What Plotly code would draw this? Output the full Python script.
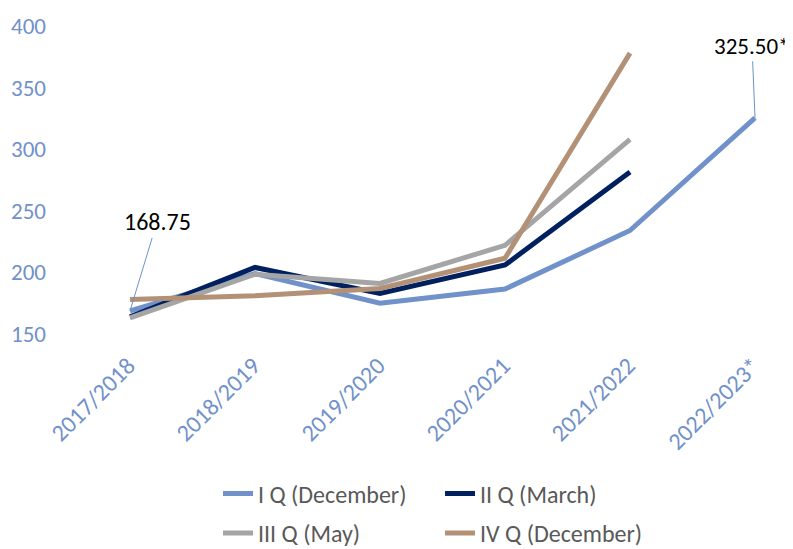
import plotly.graph_objects as go

categories = ["2017/2018", "2018/2019", "2019/2020", "2020/2021", "2021/2022", "2022/2023*"]
q1_december = [168.75, 199, 175, 186.5, 234, 325.5]
q2_march = [164, 204, 183, 206, 281.5, None]
q3_may = [163, 198.5, 191, 222, 308, None]
q4_december = [178, 181, 187, 211.5, 378, None]
y_ticks = [150, 200, 250, 300, 350, 400]

series = [
    ("I Q (December)", q1_december, "#7091CA", "legend"),
    ("II Q (March)", q2_march, "#002060", "legend"),
    ("III Q (May)", q3_may, "#A5A5A5", "legend2"),
    ("IV Q (December)", q4_december, "#B39177", "legend2"),
]

FONT = "Carlito, Lato, sans-serif"
xs = list(range(len(categories)))

fig = go.Figure()
for name, vals, color, lg in series:
    fig.add_trace(go.Scatter(
        x=xs, y=vals, mode="lines", name=name, legend=lg,
        line=dict(color=color, width=5),
    ))

fig.add_annotation(x=0, y=q1_december[0], text="168.75", showarrow=True,
                   arrowhead=0, arrowwidth=1, arrowcolor="#7091CA",
                   ax=27, ay=-89, font=dict(family=FONT, size=24, color="#000000"))
fig.add_annotation(x=5, y=q1_december[5], text="325.50*", showarrow=True,
                   arrowhead=0, arrowwidth=1, arrowcolor="#7091CA",
                   ax=-3, ay=-72, font=dict(family=FONT, size=23, color="#000000"))

legend_common = dict(orientation="h", xanchor="left", yanchor="middle",
                     xref="paper", yref="container",
                     entrywidth=177, entrywidthmode="pixels",
                     font=dict(family=FONT, size=24, color="#595959"),
                     bgcolor="rgba(0,0,0,0)")

fig.update_layout(
    width=785, height=541,
    margin=dict(l=59, r=1, t=18, b=215, autoexpand=False),
    plot_bgcolor="white", paper_bgcolor="white",
    font=dict(family=FONT),
    showlegend=True,
    legend=dict(x=0.2083, y=0.1017, **legend_common),
    legend2=dict(x=0.2083, y=0.029, **legend_common),
    xaxis=dict(
        tickmode="array", tickvals=xs, ticktext=categories,
        range=[-0.504, 5.296], tickangle=-45, automargin=False,
        showgrid=False, zeroline=False, showline=False, ticks="",
        ticklabelstandoff=12, ticklabelshift=-2,
        tickfont=dict(family=FONT, size=24, color="#7091CA"),
    ),
    yaxis=dict(
        range=[150, 400], tickvals=y_ticks, automargin=False,
        showgrid=False, zeroline=False, showline=False, ticks="",
        ticklabelstandoff=20,
        tickfont=dict(family=FONT, size=23, color="#7091CA"),
    ),
)

fig.write_html("out.html")
